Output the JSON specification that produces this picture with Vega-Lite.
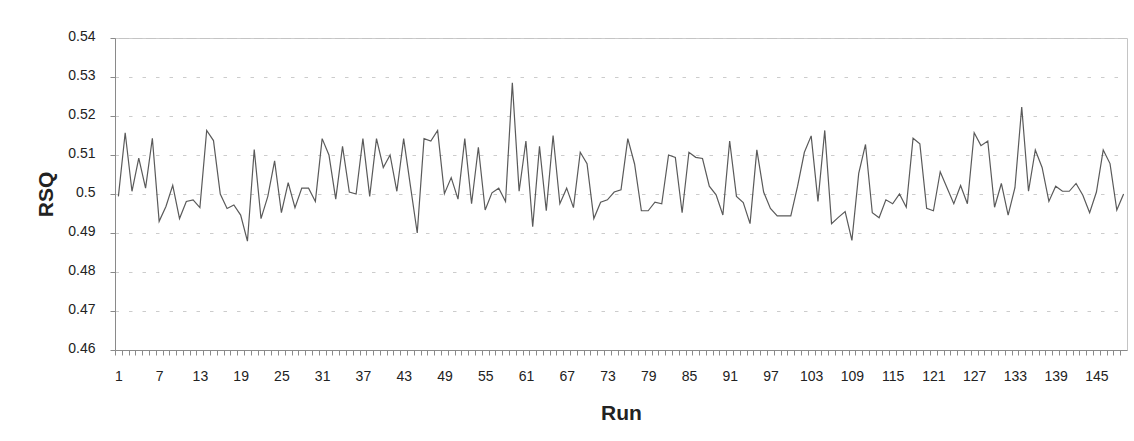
{
  "$schema": "https://vega.github.io/schema/vega-lite/v6.json",
  "width": 1012,
  "height": 312,
  "autosize": "none",
  "padding": {"left": 115, "top": 38, "right": 7, "bottom": 91},
  "background": "white",
  "config": {
    "font": "Liberation Sans",
    "view": {"stroke": "#c4c4c4", "strokeWidth": 1}
  },
  "data": {
    "values": [
      {"Run": 1, "RSQ": 0.4994}, {"Run": 2, "RSQ": 0.5157}, {"Run": 3, "RSQ": 0.5007}, {"Run": 4, "RSQ": 0.5092},
      {"Run": 5, "RSQ": 0.5015}, {"Run": 6, "RSQ": 0.5143}, {"Run": 7, "RSQ": 0.4930}, {"Run": 8, "RSQ": 0.4968},
      {"Run": 9, "RSQ": 0.5022}, {"Run": 10, "RSQ": 0.4937}, {"Run": 11, "RSQ": 0.4981}, {"Run": 12, "RSQ": 0.4985},
      {"Run": 13, "RSQ": 0.4965}, {"Run": 14, "RSQ": 0.5163}, {"Run": 15, "RSQ": 0.5137}, {"Run": 16, "RSQ": 0.5000},
      {"Run": 17, "RSQ": 0.4963}, {"Run": 18, "RSQ": 0.4972}, {"Run": 19, "RSQ": 0.4946}, {"Run": 20, "RSQ": 0.4879},
      {"Run": 21, "RSQ": 0.5114}, {"Run": 22, "RSQ": 0.4937}, {"Run": 23, "RSQ": 0.4994}, {"Run": 24, "RSQ": 0.5085},
      {"Run": 25, "RSQ": 0.4952}, {"Run": 26, "RSQ": 0.5029}, {"Run": 27, "RSQ": 0.4965}, {"Run": 28, "RSQ": 0.5015},
      {"Run": 29, "RSQ": 0.5015}, {"Run": 30, "RSQ": 0.4981}, {"Run": 31, "RSQ": 0.5142}, {"Run": 32, "RSQ": 0.5100},
      {"Run": 33, "RSQ": 0.4987}, {"Run": 34, "RSQ": 0.5122}, {"Run": 35, "RSQ": 0.5005}, {"Run": 36, "RSQ": 0.5000},
      {"Run": 37, "RSQ": 0.5142}, {"Run": 38, "RSQ": 0.4994}, {"Run": 39, "RSQ": 0.5142}, {"Run": 40, "RSQ": 0.5068},
      {"Run": 41, "RSQ": 0.5100}, {"Run": 42, "RSQ": 0.5007}, {"Run": 43, "RSQ": 0.5142}, {"Run": 44, "RSQ": 0.5020},
      {"Run": 45, "RSQ": 0.4900}, {"Run": 46, "RSQ": 0.5142}, {"Run": 47, "RSQ": 0.5136}, {"Run": 48, "RSQ": 0.5163},
      {"Run": 49, "RSQ": 0.5001}, {"Run": 50, "RSQ": 0.5042}, {"Run": 51, "RSQ": 0.4987}, {"Run": 52, "RSQ": 0.5142},
      {"Run": 53, "RSQ": 0.4975}, {"Run": 54, "RSQ": 0.5120}, {"Run": 55, "RSQ": 0.4959}, {"Run": 56, "RSQ": 0.5003},
      {"Run": 57, "RSQ": 0.5015}, {"Run": 58, "RSQ": 0.4981}, {"Run": 59, "RSQ": 0.5285}, {"Run": 60, "RSQ": 0.5007},
      {"Run": 61, "RSQ": 0.5136}, {"Run": 62, "RSQ": 0.4916}, {"Run": 63, "RSQ": 0.5122}, {"Run": 64, "RSQ": 0.4957},
      {"Run": 65, "RSQ": 0.5150}, {"Run": 66, "RSQ": 0.4975}, {"Run": 67, "RSQ": 0.5015}, {"Run": 68, "RSQ": 0.4965},
      {"Run": 69, "RSQ": 0.5107}, {"Run": 70, "RSQ": 0.5078}, {"Run": 71, "RSQ": 0.4937}, {"Run": 72, "RSQ": 0.4979},
      {"Run": 73, "RSQ": 0.4985}, {"Run": 74, "RSQ": 0.5005}, {"Run": 75, "RSQ": 0.5011}, {"Run": 76, "RSQ": 0.5142},
      {"Run": 77, "RSQ": 0.5077}, {"Run": 78, "RSQ": 0.4957}, {"Run": 79, "RSQ": 0.4957}, {"Run": 80, "RSQ": 0.4979},
      {"Run": 81, "RSQ": 0.4975}, {"Run": 82, "RSQ": 0.5100}, {"Run": 83, "RSQ": 0.5094}, {"Run": 84, "RSQ": 0.4952},
      {"Run": 85, "RSQ": 0.5107}, {"Run": 86, "RSQ": 0.5094}, {"Run": 87, "RSQ": 0.5091}, {"Run": 88, "RSQ": 0.5020},
      {"Run": 89, "RSQ": 0.4998}, {"Run": 90, "RSQ": 0.4946}, {"Run": 91, "RSQ": 0.5136}, {"Run": 92, "RSQ": 0.4994},
      {"Run": 93, "RSQ": 0.4978}, {"Run": 94, "RSQ": 0.4924}, {"Run": 95, "RSQ": 0.5113}, {"Run": 96, "RSQ": 0.5005},
      {"Run": 97, "RSQ": 0.4963}, {"Run": 98, "RSQ": 0.4944}, {"Run": 99, "RSQ": 0.4944}, {"Run": 100, "RSQ": 0.4944},
      {"Run": 101, "RSQ": 0.5020}, {"Run": 102, "RSQ": 0.5107}, {"Run": 103, "RSQ": 0.5149}, {"Run": 104, "RSQ": 0.4981},
      {"Run": 105, "RSQ": 0.5163}, {"Run": 106, "RSQ": 0.4924}, {"Run": 107, "RSQ": 0.4940}, {"Run": 108, "RSQ": 0.4955},
      {"Run": 109, "RSQ": 0.4881}, {"Run": 110, "RSQ": 0.5053}, {"Run": 111, "RSQ": 0.5127}, {"Run": 112, "RSQ": 0.4952},
      {"Run": 113, "RSQ": 0.4939}, {"Run": 114, "RSQ": 0.4985}, {"Run": 115, "RSQ": 0.4975}, {"Run": 116, "RSQ": 0.5000},
      {"Run": 117, "RSQ": 0.4966}, {"Run": 118, "RSQ": 0.5143}, {"Run": 119, "RSQ": 0.5129}, {"Run": 120, "RSQ": 0.4963},
      {"Run": 121, "RSQ": 0.4957}, {"Run": 122, "RSQ": 0.5057}, {"Run": 123, "RSQ": 0.5016}, {"Run": 124, "RSQ": 0.4975},
      {"Run": 125, "RSQ": 0.5022}, {"Run": 126, "RSQ": 0.4975}, {"Run": 127, "RSQ": 0.5157}, {"Run": 128, "RSQ": 0.5124},
      {"Run": 129, "RSQ": 0.5136}, {"Run": 130, "RSQ": 0.4966}, {"Run": 131, "RSQ": 0.5027}, {"Run": 132, "RSQ": 0.4946},
      {"Run": 133, "RSQ": 0.5016}, {"Run": 134, "RSQ": 0.5223}, {"Run": 135, "RSQ": 0.5007}, {"Run": 136, "RSQ": 0.5113},
      {"Run": 137, "RSQ": 0.5068}, {"Run": 138, "RSQ": 0.4981}, {"Run": 139, "RSQ": 0.5020}, {"Run": 140, "RSQ": 0.5007},
      {"Run": 141, "RSQ": 0.5007}, {"Run": 142, "RSQ": 0.5027}, {"Run": 143, "RSQ": 0.4997}, {"Run": 144, "RSQ": 0.4952},
      {"Run": 145, "RSQ": 0.5005}, {"Run": 146, "RSQ": 0.5113}, {"Run": 147, "RSQ": 0.5078}, {"Run": 148, "RSQ": 0.4959},
      {"Run": 149, "RSQ": 0.5000}
    ]
  },
  "mark": {"type": "line", "color": "#5a5a5a", "strokeWidth": 1.2},
  "encoding": {
    "x": {
      "field": "Run",
      "type": "ordinal",
      "sort": "ascending",
      "axis": {
        "title": "Run",
        "titleFontSize": 21,
        "titleFontWeight": "bold",
        "titleColor": "#222222",
        "titleX": 506,
        "titleY": 69,
        "titleAlign": "center",
        "titleBaseline": "alphabetic",
        "labelAngle": 0,
        "labelFontSize": 14,
        "labelColor": "#222222",
        "labelExpr": "(datum.value - 1) % 6 == 0 ? datum.label : ''",
        "labelBaseline": "alphabetic",
        "labelPadding": 25,
        "labelOverlap": false,
        "labelBound": false,
        "labelFlush": false,
        "tickSize": 5,
        "tickColor": "#8a8a8a",
        "tickOffset": -3.4,
        "labelOffset": 3.4,
        "domainColor": "#8a8a8a",
        "grid": false
      }
    },
    "y": {
      "field": "RSQ",
      "type": "quantitative",
      "scale": {"domain": [0.46, 0.54], "nice": false, "zero": false},
      "axis": {
        "title": "RSQ",
        "titleFontSize": 21,
        "titleFontWeight": "bold",
        "titleColor": "#222222",
        "titleX": -63,
        "titleY": 156,
        "titleAngle": -90,
        "titleAlign": "center",
        "titleBaseline": "alphabetic",
        "values": [0.46, 0.47, 0.48, 0.49, 0.5, 0.51, 0.52, 0.53, 0.54],
        "format": ".2~f",
        "labelFontSize": 14,
        "labelColor": "#222222",
        "labelPadding": 15,
        "labelBaseline": "middle",
        "labelOffset": -2,
        "tickSize": 5,
        "tickColor": "#8a8a8a",
        "domainColor": "#8a8a8a",
        "grid": true,
        "gridColor": "#cccccc",
        "gridDash": [3.5, 10]
      }
    }
  }
}
